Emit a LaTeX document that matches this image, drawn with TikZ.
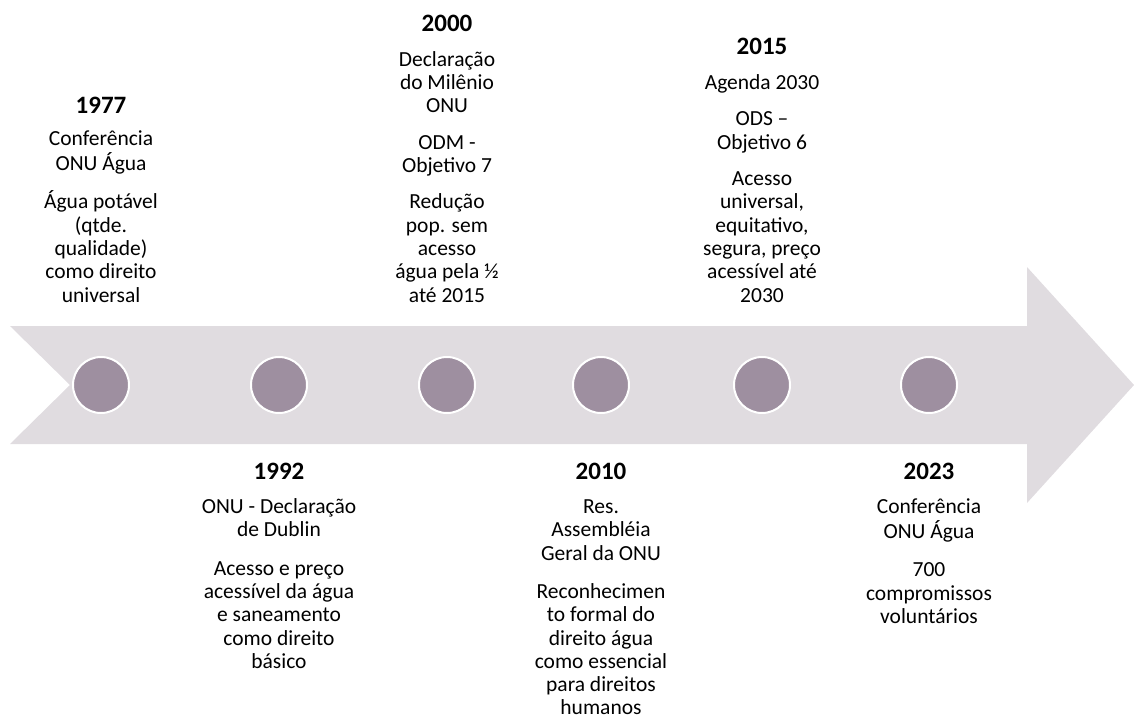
\documentclass[tikz,border=0pt]{standalone}
\usepackage{fontspec}
\setmainfont{Carlito}
\definecolor{arrowfill}{RGB}{224,220,224}
\definecolor{dotfill}{RGB}{158,143,160}
\begin{document}
\begin{tikzpicture}[x=1pt,y=-1pt,
  dot/.style={circle,fill=dotfill,draw=white,line width=2pt,minimum size=56pt,inner sep=0pt},
  yr/.style={anchor=base,inner sep=0pt,font=\fontsize{25}{28}\selectfont\bfseries},
  body/.style={anchor=base,inner sep=0pt,font=\fontsize{21.5}{23.3}\selectfont}]
\useasboundingbox (0,0) rectangle (1134,720);
% timeline arrow
\fill[arrowfill] (10,326) -- (1027,326) -- (1027,267) -- (1134,385) -- (1027,503) -- (1027,444) -- (10,444) -- (70,385) -- cycle;
% dots
\node[dot] (d1) at (101,385) {};
\node[dot] (d2) at (279,385) {};
\node[dot] (d3) at (447,385) {};
\node[dot] (d4) at (601,385) {};
\node[dot] (d5) at (762,385) {};
\node[dot] (d6) at (929,385) {};
% top events (last baseline at 302)
\node[yr] (y1) at (101,113.2) {1977};
\node[body] (t1) at (101,302) {\begin{tabular}[b]{@{}c@{}}Conferência\\ONU Água\\[13pt]Água potável\\(qtde.\\qualidade)\\como direito\\universal\end{tabular}};
\node[yr] (y3) at (447,31.3) {2000};
\node[body] (t3) at (447,302) {\begin{tabular}[b]{@{}c@{}}Declaração\\do Milênio\\ONU\\[13pt]ODM -\\Objetivo 7\\[13pt]Redução\\pop. sem\\acesso\\água pela ½\\até 2015\end{tabular}};
\node[yr] (y5) at (762,54.6) {2015};
\node[body] (t5) at (762,302) {\begin{tabular}[b]{@{}c@{}}Agenda 2030\\[13pt]ODS –\\Objetivo 6\\[13pt]Acesso\\universal,\\equitativo,\\segura, preço\\acessível até\\2030\end{tabular}};
% bottom events
\node[yr] (y2) at (279,479) {1992};
\node[body] (t2) at (279,513.5) {\begin{tabular}[t]{@{}c@{}}ONU - Declaração\\de Dublin\\[15pt]Acesso e preço\\acessível da água\\e saneamento\\como direito\\básico\end{tabular}};
\node[yr] (y4) at (601,479) {2010};
\node[body] (t4) at (601,513.5) {\begin{tabular}[t]{@{}c@{}}Res.\\Assembléia\\Geral da ONU\\[15pt]Reconhecimen\\to formal do\\direito água\\como essencial\\para direitos\\humanos\end{tabular}};
\node[yr] (y6) at (929,479) {2023};
\node[body] (t6) at (929,513.5) {\begin{tabular}[t]{@{}c@{}}Conferência\\ONU Água\\[15pt]700\\compromissos\\voluntários\end{tabular}};
\end{tikzpicture}
\end{document}
